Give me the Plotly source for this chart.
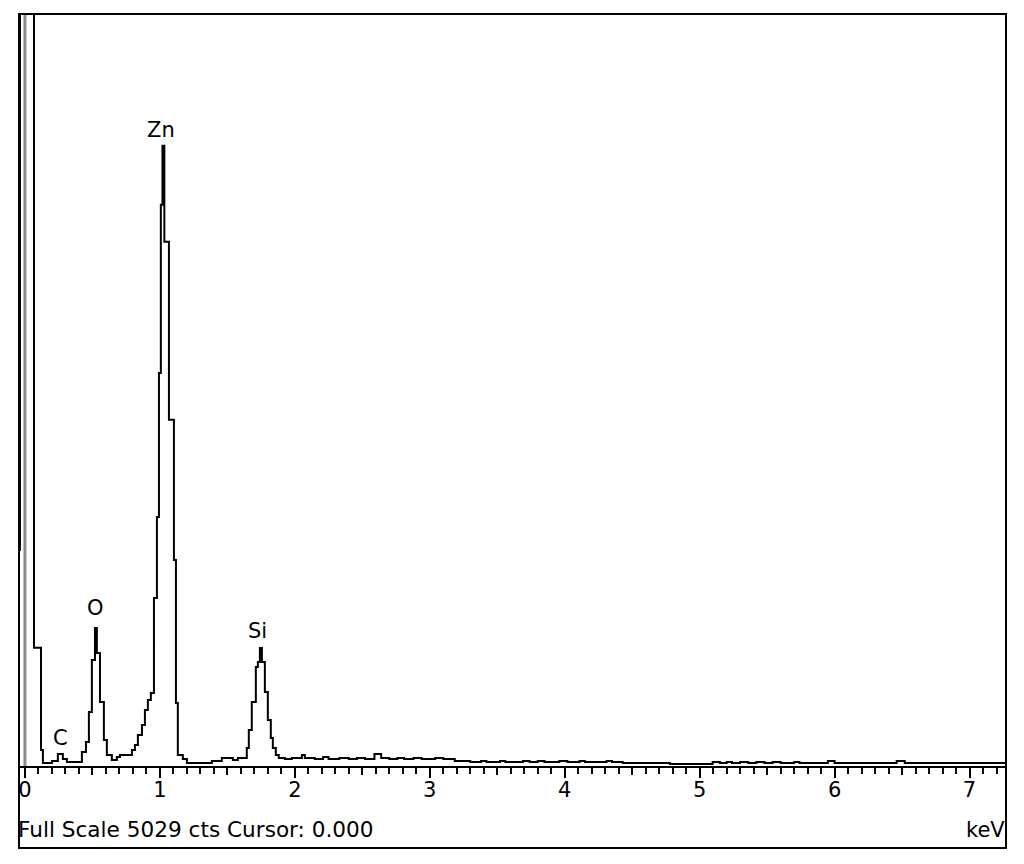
import plotly.graph_objs as go

# EDS spectrum (left edge of each step in keV, counts)
energy_kev = [-0.044, -0.037, 0.067, 0.119, 0.133, 0.200, 0.244, 0.281, 0.311, 0.422,
              0.452, 0.474, 0.496, 0.519, 0.533, 0.556, 0.585, 0.607, 0.644, 0.681,
              0.704, 0.793, 0.815, 0.837, 0.867, 0.889, 0.911, 0.933, 0.956, 0.978,
              0.993, 1.007, 1.019, 1.033, 1.067, 1.104, 1.119, 1.133, 1.170, 1.200,
              1.385, 1.459, 1.541, 1.578, 1.644, 1.659, 1.681, 1.711, 1.726, 1.741,
              1.756, 1.778, 1.800, 1.822, 1.837, 1.859, 1.881, 1.926, 1.978, 2.052,
              2.074, 2.148, 2.210, 2.250, 2.330, 2.400, 2.460, 2.520, 2.590, 2.640,
              2.700, 2.760, 2.810, 2.880, 2.940, 3.040, 3.100, 3.185, 3.300, 3.380,
              3.420, 3.520, 3.560, 3.690, 3.740, 3.800, 3.850, 3.960, 4.020, 4.110,
              4.150, 4.310, 4.350, 4.430, 4.780, 5.096, 5.150, 5.200, 5.240, 5.300,
              5.360, 5.420, 5.480, 5.540, 5.600, 5.700, 5.740, 5.950, 6.000, 6.460,
              6.520, 7.270]
counts = [1445, 5800, 790, 107, 20, 33, 80, 47, 27, 94,
          161, 361, 709, 923, 756, 428, 174, 74, 40, 60,
          74, 107, 140, 207, 274, 375, 442, 488, 1124, 1666,
          2629, 3753, 4148, 3506, 2315, 1378, 421, 74, 47, 20,
          33, 54, 40, 54, 120, 241, 428, 662, 696, 789,
          696, 495, 308, 187, 120, 74, 54, 47, 54, 74,
          54, 47, 60, 47, 54, 47, 54, 47, 80, 54,
          47, 54, 47, 54, 47, 54, 47, 33, 27, 33,
          27, 33, 27, 33, 27, 33, 27, 33, 27, 33,
          27, 33, 27, 20, 13, 27, 20, 27, 20, 27,
          20, 27, 20, 27, 20, 27, 20, 33, 20, 33,
          20, 20]

# element labels
element_labels = ["C", "O", "Zn", "Si"]
label_kev = [0.267, 0.526, 1.007, 1.726]
label_counts = [187, 1057, 4255, 903]

full_scale = 5029
cursor_kev = 0.0
x_range = [-0.044, 7.27]
major_ticks = [0, 1, 2, 3, 4, 5, 6, 7]
half_ticks = [0.5, 1.5, 2.5, 3.5, 4.5, 5.5, 6.5]

font_name = "DejaVu Sans"

fig = go.Figure()

fig.add_trace(go.Scatter(
    x=energy_kev, y=counts,
    mode='lines',
    line=dict(color='black', width=2, shape='hv'),
    showlegend=False, hoverinfo='skip'
))

# empty trace so the half-keV tick axis is drawn
fig.add_trace(go.Scatter(x=[None], y=[None], xaxis='x2', showlegend=False))

for name, xk, yc in zip(element_labels, label_kev, label_counts):
    fig.add_annotation(x=xk, y=yc, text=name, showarrow=False,
                       font=dict(family=font_name, size=21, color='black'))

fig.add_annotation(xref='paper', yref='paper', x=0, y=-0.085, xanchor='left', yanchor='middle',
                   xshift=-3,
                   text=f"Full Scale {full_scale} cts Cursor: {cursor_kev:.3f}", showarrow=False,
                   font=dict(family=font_name, size=21.6, color='black'))
fig.add_annotation(xref='paper', yref='paper', x=1, y=-0.085, xanchor='right', yanchor='middle',
                   xshift=1,
                   text="keV", showarrow=False,
                   font=dict(family=font_name, size=21, color='black'))

# cursor line
fig.add_shape(type='line', xref='x', yref='paper', x0=cursor_kev, x1=cursor_kev, y0=0, y1=1,
              line=dict(color='#8c8c8c', width=3), layer='below')
# outer frame
fig.add_shape(type='rect', xref='paper', yref='paper', x0=0, x1=1, y0=-0.109, y1=1,
              line=dict(color='black', width=2), layer='above')

fig.update_layout(
    width=1024, height=864,
    margin=dict(l=11, r=26, t=6, b=106),
    paper_bgcolor='white', plot_bgcolor='white',
    font=dict(family=font_name, size=21, color='black'),
    xaxis=dict(
        range=x_range, tickvals=major_ticks, ticks='outside', ticklen=10, tickwidth=2,
        tickcolor='black', showline=True, linecolor='black', linewidth=2,
        showgrid=False, zeroline=False, ticklabelstandoff=-6,
        tickfont=dict(family=font_name, size=21, color='black'),
        minor=dict(dtick=0.1, tick0=0, ticks='outside', ticklen=6, tickwidth=2,
                   tickcolor='black', showgrid=False),
    ),
    xaxis2=dict(
        range=x_range, overlaying='x', anchor='y', side='bottom',
        tickvals=half_ticks, ticks='outside', ticklen=8, tickwidth=2, tickcolor='black',
        showticklabels=False, showgrid=False, zeroline=False, showline=False,
    ),
    yaxis=dict(range=[0, full_scale], visible=False, fixedrange=True),
)

fig.write_html("out.html")
